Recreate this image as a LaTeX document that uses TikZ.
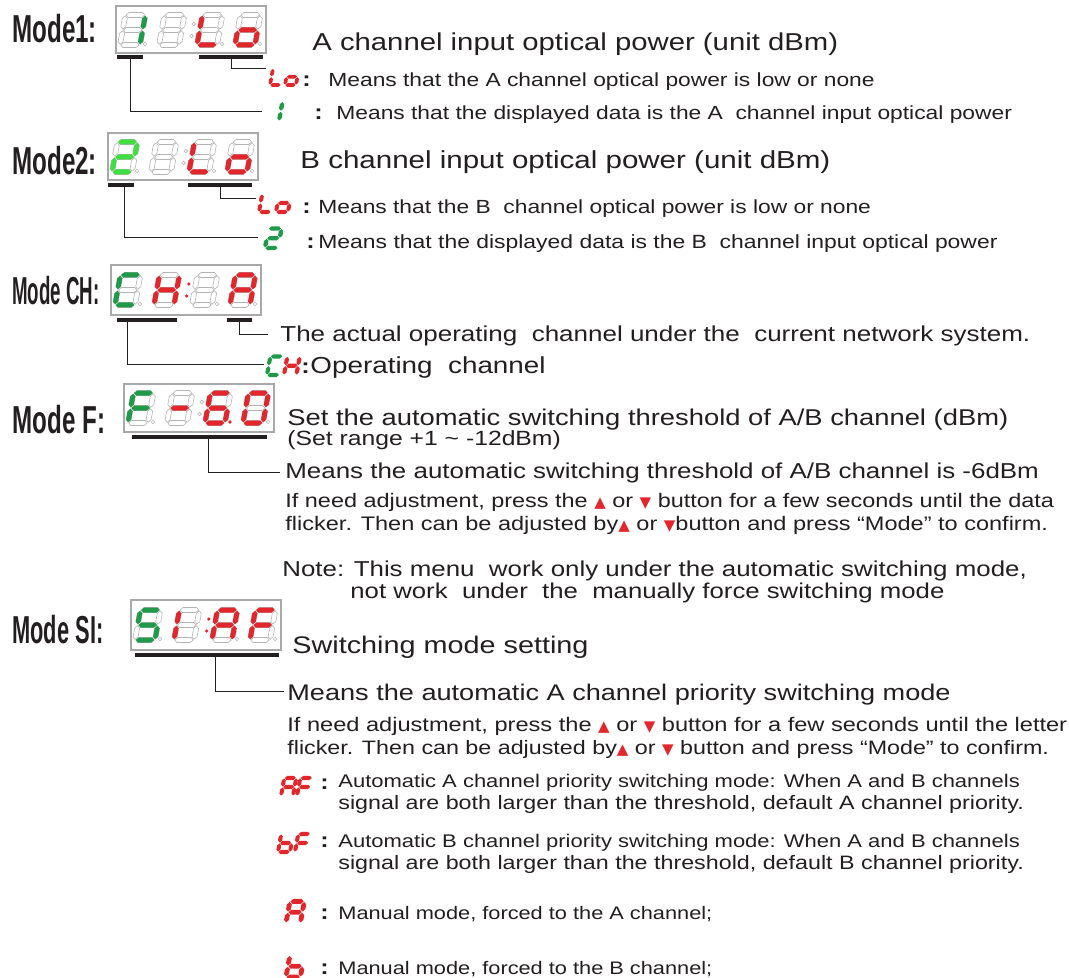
\documentclass[tikz,border=0pt]{standalone}
\usepackage{fontspec}
\setmainfont{Liberation Sans}[FakeStretch=1.2]
\newfontfamily\modefont{Liberation Sans}[FakeStretch=0.62]
\newfontfamily\modemid{Liberation Sans}[FakeStretch=0.56]
\newfontfamily\modenarrow{Liberation Sans}[FakeStretch=0.48]
\newfontfamily\symfont{DejaVu Sans}
\definecolor{Ink}{HTML}{231F20}
\definecolor{SegRed}{HTML}{E2262B}
\definecolor{SegGreen}{HTML}{1E9A48}
\definecolor{SegLime}{HTML}{3FDF3F}
\definecolor{SegOff}{HTML}{B4B4B4}
\definecolor{Frame}{HTML}{A9A9A9}

% seven segment parts, digit cell 20 x 30
\newcommand{\segt}{2.5}
\newcommand{\segH}[1]{(0.8,#1) -- (0.8+\segt,#1+\segt) -- (19.2-\segt,#1+\segt) -- (19.2,#1) -- (19.2-\segt,#1-\segt) -- (0.8+\segt,#1-\segt) -- cycle}
\newcommand{\segV}[3]{(#1,#2+0.8) -- (#1+\segt,#2+0.8+\segt) -- (#1+\segt,#3-0.8-\segt) -- (#1,#3-0.8) -- (#1-\segt,#3-0.8-\segt) -- (#1-\segt,#2+0.8+\segt) -- cycle}
\newcommand{\segpa}{\segH{30}}
\newcommand{\segpb}{\segV{20}{15}{30}}
\newcommand{\segpc}{\segV{20}{0}{15}}
\newcommand{\segpd}{\segH{0}}
\newcommand{\segpe}{\segV{0}{0}{15}}
\newcommand{\segpf}{\segV{0}{15}{30}}
\newcommand{\segpg}{\segH{15}}
\newcommand{\segpnone}{}

\newcommand{\segdigit}[4]{%
  \begin{scope}[shift={(#1,#2)}, yscale=-1, xslant=-0.18]
    \foreach \s in {a,b,c,d,e,f,g} \draw[segoff] \csname segp\s\endcsname;
    \foreach \s in {#3} \fill[#4] \csname segp\s\endcsname;
  \end{scope}}
\newcommand{\seglabel}[5]{%
  \begin{scope}[shift={(#1,#2)}, scale=#5, yscale=-1, xslant=-0.18]
    \renewcommand{\segt}{3.4}
    \foreach \s in {#3} \fill[#4] \csname segp\s\endcsname;
  \end{scope}}
\newcommand{\segdot}[3]{\path[#3] (#1,#2) circle[radius=1.8];}
\newcommand{\segpoints}[4]{%
  \segdot{29}{38}{#1}\segdot{106}{38}{#3}\segdot{144}{38}{#4}%
  \segdot{77.8}{18}{#2}\segdot{75.6}{30}{#2}}
\newcommand{\segframe}[2]{\draw[frame] (0,0) rectangle (#1,#2);}

\newcommand{\triup}{{\color{SegRed}\symfont\fontsize{7.5}{7}\selectfont ▲}}
\newcommand{\tridn}{{\color{SegRed}\symfont\fontsize{7.5}{7}\selectfont ▼}}

\begin{document}
\begin{tikzpicture}[x=0.5pt, y=-0.5pt,
    frame/.style={draw=Frame, line width=0.7pt},
    segoff/.style={draw=SegOff, line width=0.3pt},
    dotoff/.style={draw=SegOff, line width=0.3pt},
    dotred/.style={fill=SegRed},
    bar/.style={draw=Ink, line width=2pt},
    conn/.style={draw=Ink, line width=0.5pt},
    txt/.style={anchor=base west, inner sep=0pt, text=Ink},
    fs/.style={txt, font=\fontsize{#1}{#1}\selectfont},
    modelabel/.style={txt, font=\modefont\bfseries\fontsize{19.5}{20}\selectfont},
    sep/.style={txt, font=\bfseries\fontsize{10.5}{12}\selectfont}
  ]
  \useasboundingbox (0,0) rectangle (1069,978);
  \fill[white] (0,0) rectangle (1069,978);

  % Mode 1
  \node[modelabel] (m1) at (12,43) {Mode1:};
  \begin{scope}[shift={(116,6)}]
    \segframe{150}{47}
    \segdigit{4}{39}{b,c}{SegGreen}
    \segdigit{43}{39}{none}{}
    \segdigit{81}{39}{d,e,f}{SegRed}
    \segdigit{119}{39}{c,d,e,g}{SegRed}
    \segpoints{dotoff}{dotoff}{dotoff}{dotoff}
  \end{scope}
  \draw[bar] (117,57) -- (143,57);
  \draw[bar] (199,57) -- (263,57);
  \coordinate (m1b1) at (130,57);
  \coordinate (m1b2) at (231,57);
  \coordinate (m1lo) at (266,69);
  \coordinate (m1one) at (262,112);
  \draw[conn] (m1b2) |- (m1lo);
  \draw[conn] (m1b1) |- (m1one);
  \node[fs=12.2] (m1title) at (312,51) {A channel input optical power (unit dBm)};
  \seglabel{270}{85}{d,e,f}{SegRed}{0.55}
  \seglabel{285}{85}{c,d,e,g}{SegRed}{0.55}
  \node[sep] (m1locol) at (302,87) {:};
  \node[fs=9.5] (m1lotxt) at (328,87) {Means that the A channel optical power is low or none};
  \seglabel{266}{121}{b,c}{SegGreen}{0.65}
  \node[sep] (m1onecol) at (314,120) {:};
  \node[fs=9.5] (m1onetxt) at (336,120) {Means that the displayed data is the A \ channel input optical power};

  % Mode 2
  \node[modelabel] (m2) at (12,175) {Mode2:};
  \begin{scope}[shift={(108,133)}]
    \segframe{150}{47}
    \segdigit{4}{39}{a,b,d,e,g}{SegLime}
    \segdigit{43}{39}{none}{}
    \segdigit{81}{39}{d,e,f}{SegRed}
    \segdigit{119}{39}{c,d,e,g}{SegRed}
    \segpoints{dotoff}{dotoff}{dotoff}{dotoff}
  \end{scope}
  \draw[bar] (108,185) -- (134,185);
  \draw[bar] (188,185) -- (252,185);
  \coordinate (m2b1) at (124,185);
  \coordinate (m2b2) at (220,185);
  \coordinate (m2lo) at (256,199);
  \coordinate (m2two) at (258,238);
  \draw[conn] (m2b2) |- (m2lo);
  \draw[conn] (m2b1) |- (m2two);
  \node[fs=12.3] (m2title) at (300,169) {B channel input optical power (unit dBm)};
  \seglabel{259}{212}{d,e,f}{SegRed}{0.6}
  \seglabel{276}{212}{c,d,e,g}{SegRed}{0.6}
  \node[sep] (m2locol) at (302,214) {:};
  \node[fs=9.5] (m2lotxt) at (318,214) {Means that the B \ channel optical power is low or none};
  \seglabel{265}{248}{a,b,d,e,g}{SegGreen}{0.65}
  \node[sep] (m2twocol) at (306,249) {:};
  \node[fs=9.55] (m2twotxt) at (318,249) {Means that the displayed data is the B \ channel input optical power};

  % Mode CH
  \node[modelabel, font=\modenarrow\bfseries\fontsize{19.5}{20}\selectfont] (mch) at (12,305) {Mode CH:};
  \begin{scope}[shift={(111,265)}]
    \segframe{150}{50}
    \segdigit{4}{40}{a,d,e,f}{SegGreen}
    \segdigit{43}{40}{b,c,e,f,g}{SegRed}
    \segdigit{81}{40}{none}{}
    \segdigit{119}{40}{a,b,c,e,f,g}{SegRed}
    \begin{scope}[yshift=-0.5pt]
      \segpoints{dotoff}{dotred}{dotoff}{dotoff}
    \end{scope}
  \end{scope}
  \draw[bar] (117,320) -- (177,320);
  \draw[bar] (227,320) -- (252,320);
  \coordinate (chb1) at (127,320);
  \coordinate (chb2) at (239,320);
  \coordinate (chact) at (268,334);
  \coordinate (chop) at (264,364);
  \draw[conn] (chb2) |- (chact);
  \draw[conn] (chb1) |- (chop);
  \node[fs=10.83] (chacttxt) at (280,342) {The actual operating \ channel under the \ current network system.};
  \seglabel{267}{375}{a,d,e,f}{SegGreen}{0.62}
  \seglabel{284}{375}{b,c,e,f,g}{SegRed}{0.62}
  \node[sep] (chcol) at (301,373) {:};
  \node[fs=11.6] (choptxt) at (310,373) {Operating \ channel};

  % Mode F
  \node[modelabel] (mf) at (12,433) {Mode F:};
  \begin{scope}[shift={(124,384)}]
    \segframe{150}{48}
    \segdigit{4}{39}{a,e,f,g}{SegGreen}
    \segdigit{43}{39}{g}{SegRed}
    \segdigit{81}{39}{a,c,d,e,f,g}{SegRed}
    \segdigit{119}{39}{a,b,c,d,e,f}{SegRed}
    \segpoints{dotoff}{dotoff}{dotred}{dotoff}
  \end{scope}
  \draw[bar] (132,437) -- (267,437);
  \coordinate (fb) at (208,437);
  \coordinate (fmean) at (280,472);
  \draw[conn] (fb) |- (fmean);
  \node[fs=11.4] (fset) at (287,425) {Set the automatic switching threshold of A/B channel (dBm)};
  \node[fs=10.3] (frange) at ([yshift=-10pt]fset.base west) {(Set range +1 \textasciitilde{} -12dBm)};
  \node[fs=10.8] (fmeantxt) at (285,478) {Means the automatic switching threshold of A/B channel is -6dBm};
  \node[fs=9.77] (fadj) at (285,507) {If need adjustment, press the \triup{} or \tridn{} button for a few seconds until the data};
  \node[fs=9.8] (fadjb) at ([yshift=-11.5pt]fadj.base west) {flicker. Then can be adjusted by\triup{} or \tridn{}button and press “Mode” to confirm.};
  \node[fs=10.78] (fnote) at (282,576) {Note: This menu \ work only under the automatic switching mode,};
  \node[fs=10.73] (fnoteb) at (350,598) {not work \ under \ the \ manually force switching mode};

  % Mode SI
  \node[modelabel, font=\modemid\bfseries\fontsize{19.5}{20}\selectfont] (msi) at (12,643) {Mode SI:};
  \begin{scope}[shift={(131,600)}]
    \segframe{150}{50}
    \segdigit{4}{40}{a,c,d,f,g}{SegGreen}
    \segdigit{43}{40}{e,f}{SegRed}
    \segdigit{81}{40}{a,b,c,e,f,g}{SegRed}
    \segdigit{119}{40}{a,e,f,g}{SegRed}
    \begin{scope}[yshift=-0.5pt]
      \segpoints{dotoff}{dotred}{dotoff}{dotoff}
    \end{scope}
  \end{scope}
  \draw[bar] (135,655) -- (279,655);
  \coordinate (sib) at (215,655);
  \coordinate (simean) at (284,691);
  \draw[conn] (sib) |- (simean);
  \node[fs=12] (sititle) at (292,653) {Switching mode setting};
  \node[fs=11.3] (simeantxt) at (287,700) {Means the automatic A channel priority switching mode};
  \node[fs=9.83] (siadj) at (287,731) {If need adjustment, press the \triup{} or \tridn{} button for a few seconds until the letter};
  \node[fs=9.7] (siadjb) at ([yshift=-11.5pt]siadj.base west) {flicker. Then can be adjusted by\triup{} or \tridn{} button and press “Mode” to confirm.};

  \seglabel{281}{796}{a,b,c,e,f,g}{SegRed}{0.6}
  \seglabel{297}{796}{a,e,f,g}{SegRed}{0.6}
  \node[sep] (afcol) at (320,789) {:};
  \node[fs=9.16] (aftxt) at (338,787) {Automatic A channel priority switching mode: When A and B channels};
  \node[fs=9.7] (aftxtb) at ([yshift=-11pt]aftxt.base west) {signal are both larger than the threshold, default A channel priority.};

  \seglabel{278}{852}{c,d,e,f,g}{SegRed}{0.6}
  \seglabel{295}{852}{a,e,f,g}{SegRed}{0.6}
  \node[sep] (bfcol) at (320,847) {:};
  \node[fs=9.16] (bftxt) at (338,847) {Automatic B channel priority switching mode: When A and B channels};
  \node[fs=9.7] (bftxtb) at ([yshift=-11pt]bftxt.base west) {signal are both larger than the threshold, default B channel priority.};

  \seglabel{286}{923}{a,b,c,e,f,g}{SegRed}{0.72}
  \node[sep] (acol) at (320,919) {:};
  \node[fs=9.07] (atxt) at (338,919) {Manual mode, forced to the A channel;};

  \seglabel{286}{977}{c,d,e,f,g}{SegRed}{0.72}
  \node[sep] (bcol) at (320,974) {:};
  \node[fs=9.07] (btxt) at (338,974) {Manual mode, forced to the B channel;};
\end{tikzpicture}
\end{document}
